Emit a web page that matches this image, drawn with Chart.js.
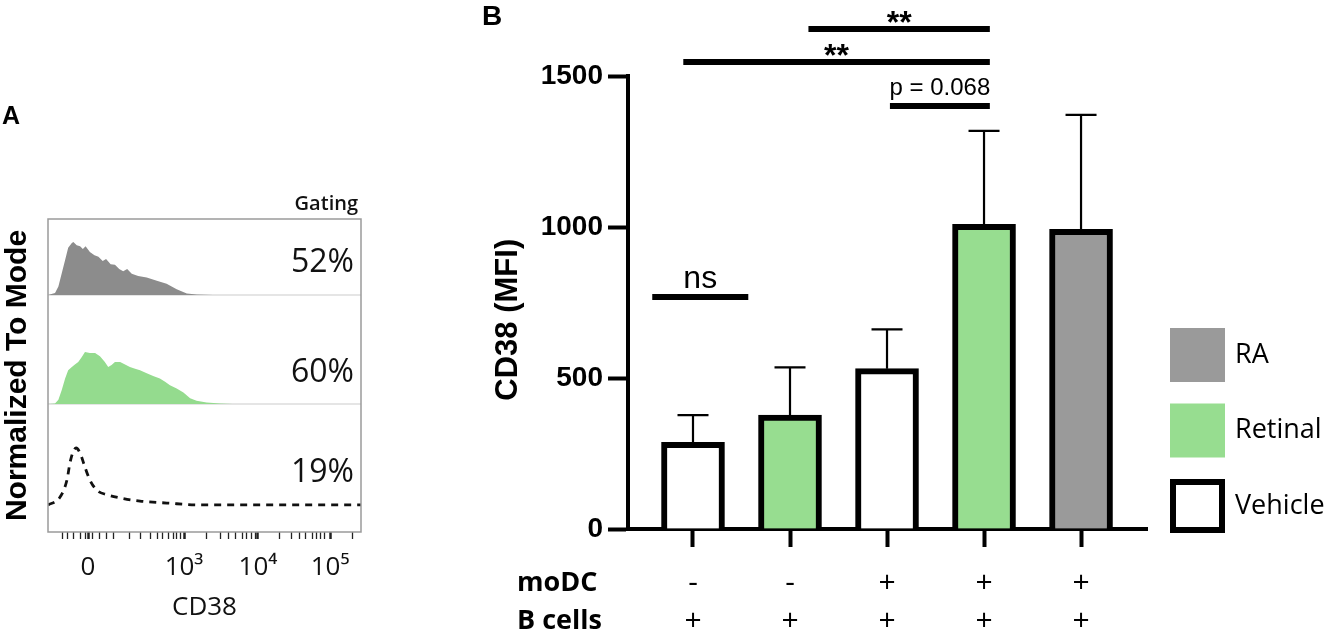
<!DOCTYPE html>
<html lang="en">
<head>
<meta charset="utf-8">
<title>CD38 expression</title>
<script src="https://cdn.jsdelivr.net/npm/chart.js@4.4.1/dist/chart.umd.min.js"></script>
<style>
  html, body { margin: 0; padding: 0; background: #ffffff; }
  #page { position: relative; width: 1340px; height: 643px; overflow: hidden; }
  #panelA { position: absolute; left: 0; top: 0; width: 470px; height: 643px; }
  #panelB { position: absolute; left: 470px; top: 0; width: 870px; height: 643px; }
</style>
</head>
<body>
<div id="page">
  <div id="panelA"><canvas id="histChart"></canvas></div>
  <div id="panelB"><canvas id="mfiChart"></canvas></div>
</div>
<script>
// A: CD38 histograms. x = display channel (0-1024), y = normalized to mode
const raChannel = [0, 23, 34, 45, 56, 66, 78, 83, 94, 105, 114, 123, 137, 152, 165, 179, 190, 205, 219, 233, 246, 259, 274, 295, 323, 356, 388, 421, 454, 486, 541, 1024];
const raMode = [0, 0.04, 0.16, 0.41, 0.66, 0.89, 0.98, 1.0, 0.94, 0.92, 0.87, 0.92, 0.81, 0.75, 0.72, 0.64, 0.68, 0.58, 0.57, 0.49, 0.45, 0.49, 0.40, 0.36, 0.33, 0.27, 0.21, 0.11, 0.03, 0.01, 0, 0];
const retChannel = [0, 23, 34, 45, 56, 66, 78, 88, 99, 110, 121, 137, 154, 170, 186, 197, 208, 219, 236, 252, 268, 285, 301, 323, 344, 366, 383, 399, 421, 443, 465, 486, 519, 563, 605, 1024];
const retMode = [0, 0.01, 0.08, 0.27, 0.49, 0.65, 0.71, 0.76, 0.81, 0.90, 1.0, 0.98, 0.98, 0.92, 0.81, 0.71, 0.75, 0.81, 0.81, 0.76, 0.71, 0.68, 0.65, 0.59, 0.54, 0.49, 0.43, 0.36, 0.30, 0.22, 0.11, 0.06, 0.03, 0.01, 0, 0];
const vehChannel = [0, 39, 62, 72, 82, 92, 105, 121, 137, 160, 193, 236, 301, 389, 497, 1024];
const vehMode = [0.11, 0.23, 0.5, 0.77, 0.94, 1.0, 0.92, 0.70, 0.5, 0.34, 0.27, 0.22, 0.17, 0.14, 0.11, 0.11];
const gatingPct = ["52%", "60%", "19%"];

const cd38MajorTicks = [131, 445, 687, 923];
const cd38MajorLabels = ["0", "10³", "10⁴", "10⁵"];
const cd38MinorTicks = [49, 65, 82, 105, 124, 144, 167, 193, 213, 265, 304, 334, 357, 376, 393, 409, 422, 432,
  520, 563, 592, 615, 635, 651, 667, 680, 759, 795, 824, 844, 864, 880, 893, 906, 995];

// B: CD38 MFI, mean + SD
const treatment = ["Vehicle", "Retinal", "Vehicle", "Retinal", "RA"];
const moDC = ["-", "-", "+", "+", "+"];
const bCells = ["+", "+", "+", "+", "+"];
const meanMFI = [287, 377, 531, 1009, 992];
const sdMFI = [90, 158, 130, 309, 379];
const groupNames = ["RA", "Retinal", "Vehicle"];

// significance bars (x in bar positions, level in MFI units)
const sigFrom = [2.19, 0.9, 3.03, 0.58];
const sigTo = [4.06, 4.06, 4.06, 1.57];
const sigLevel = [1656, 1546, 1401, 768];
const sigText = ["**", "**", "p = 0.068", "ns"];

const GREEN = "#97dd90";
const GREY = "#9a9a9a";
const groupColor = { RA: GREY, Retinal: GREEN, Vehicle: "#ffffff" };

Chart.defaults.font.family = "'Liberation Sans', Arial, sans-serif";
Chart.defaults.color = "#000";

const toPoints = (xs, ys) => xs.map((x, i) => ({ x: x, y: ys[i] }));

const histDecor = {
  id: "histDecor",
  beforeDatasetsDraw(chart) {
    const { ctx, chartArea } = chart;
    ctx.save();
    ctx.strokeStyle = "#dddddd";
    ctx.lineWidth = 1.5;
    ["yRA", "yRet"].forEach((id) => {
      const y = chart.scales[id].getPixelForValue(0);
      ctx.beginPath();
      ctx.moveTo(chartArea.left, y);
      ctx.lineTo(chartArea.right, y);
      ctx.stroke();
    });
    ctx.restore();
  },
  afterDatasetsDraw(chart) {
    const { ctx, chartArea } = chart;
    ctx.save();
    ctx.strokeStyle = "#9a9a9a";
    ctx.lineWidth = 1.5;
    ctx.strokeRect(chartArea.left, chartArea.top, chartArea.right - chartArea.left, chartArea.bottom - chartArea.top);

    ctx.fillStyle = "#000";
    ctx.textAlign = "left";
    ctx.textBaseline = "alphabetic";
    ctx.font = "bold 25px 'Liberation Sans'";
    ctx.fillText("A", 2, 124);

    ctx.fillStyle = "#111";
    ctx.textAlign = "right";
    ctx.font = "600 20px 'Open Sans'";
    ctx.fillText("Gating", chartArea.right - 3, 210);

    ctx.font = "32px 'Open Sans'";
    ["yRA", "yRet", "yVeh"].forEach((id, i) => {
      const y = chart.scales[id].getPixelForValue(0.64);
      ctx.fillText(gatingPct[i], chartArea.right - 7, y + 11);
    });
    ctx.restore();
  },
};

new Chart(document.getElementById("histChart").getContext("2d"), {
  type: "line",
  data: {
    datasets: [
      {
        label: "RA",
        data: toPoints(raChannel, raMode),
        yAxisID: "yRA",
        fill: "origin",
        backgroundColor: "#8c8c8c",
        borderWidth: 0,
        pointRadius: 0,
      },
      {
        label: "Retinal",
        data: toPoints(retChannel, retMode),
        yAxisID: "yRet",
        fill: "origin",
        backgroundColor: "#94db8e",
        borderWidth: 0,
        pointRadius: 0,
      },
      {
        label: "Vehicle",
        data: toPoints(vehChannel, vehMode),
        yAxisID: "yVeh",
        fill: false,
        borderColor: "#111",
        borderWidth: 2.8,
        borderDash: [7, 6],
        cubicInterpolationMode: "monotone",
        pointRadius: 0,
      },
    ],
  },
  options: {
    responsive: true,
    maintainAspectRatio: false,
    animation: false,
    events: [],
    layout: { padding: { left: 0, right: 109, top: 219, bottom: 0 } },
    plugins: { legend: { display: false }, tooltip: { enabled: false } },
    scales: {
      x: {
        type: "linear",
        min: 0,
        max: 1024,
        afterBuildTicks: (scale) => {
          scale.ticks = cd38MajorTicks.concat(cd38MinorTicks).sort((a, b) => a - b).map((v) => ({ value: v }));
        },
        afterFit: (scale) => { scale.height = 111; },
        border: { display: false },
        grid: {
          drawOnChartArea: false,
          tickLength: 7,
          tickColor: "#222",
          tickWidth: (c) => (c.tick && cd38MajorTicks.includes(c.tick.value) ? 2.5 : 1.3),
        },
        ticks: {
          autoSkip: false,
          maxRotation: 0,
          padding: 13,
          color: "#111",
          font: { family: "'Open Sans'", size: 26 },
          callback: (v) => {
            const k = cd38MajorTicks.indexOf(v);
            return k >= 0 ? cd38MajorLabels[k] : "";
          },
        },
        title: {
          display: true,
          text: "CD38",
          color: "#111",
          font: { family: "'Open Sans'", size: 26 },
          padding: { top: 0, bottom: 20 },
        },
      },
      yRA: { display: false, min: -4.472, max: 1.434 },
      yRet: { display: false, min: -2.462, max: 3.558 },
      yVeh: {
        position: "left",
        min: -0.3125,
        max: 4.578,
        afterFit: (scale) => { scale.width = 48; },
        ticks: { display: false },
        grid: { display: false },
        border: { display: false },
        title: {
          display: true,
          text: "Normalized To Mode",
          color: "#000",
          font: { family: "'Liberation Sans'", size: 30, weight: "bold" },
          padding: { top: 0, bottom: 0 },
        },
      },
    },
  },
  plugins: [histDecor],
});

const mfiDecor = {
  id: "mfiDecor",
  afterDatasetsDraw(chart) {
    const { ctx, chartArea, scales: { x, y } } = chart;
    ctx.save();
    ctx.strokeStyle = "#000";
    ctx.fillStyle = "#000";

    // upper SD error bars
    ctx.lineWidth = 2.2;
    meanMFI.forEach((m, i) => {
      const px = x.getPixelForValue(i + 1);
      const yBar = y.getPixelForValue(m);
      const yTop = y.getPixelForValue(m + sdMFI[i]);
      ctx.beginPath();
      ctx.moveTo(px, yBar);
      ctx.lineTo(px, yTop);
      ctx.moveTo(px - 15.5, yTop);
      ctx.lineTo(px + 15.5, yTop);
      ctx.stroke();
    });

    // significance bars
    ctx.lineWidth = 6;
    ctx.lineCap = "butt";
    ctx.textAlign = "center";
    ctx.textBaseline = "alphabetic";
    sigText.forEach((t, i) => {
      const x0 = x.getPixelForValue(sigFrom[i]);
      const x1 = x.getPixelForValue(sigTo[i]);
      const yy = y.getPixelForValue(sigLevel[i]);
      ctx.beginPath();
      ctx.moveTo(x0, yy);
      ctx.lineTo(x1, yy);
      ctx.stroke();
      let dy;
      if (t === "**") {
        ctx.font = "bold 32px 'Liberation Sans'";
        dy = 4;
      } else if (t === "ns") {
        ctx.font = "32px 'Liberation Sans'";
        dy = -9;
      } else {
        ctx.font = "24px 'Liberation Sans'";
        dy = -10.5;
      }
      ctx.fillText(t, (x0 + x1) / 2, yy + dy);
    });

    // row headers for the tick rows
    ctx.textAlign = "left";
    ctx.textBaseline = "middle";
    ctx.font = "bold 27px 'Open Sans'";
    const row0 = x.top + 18 + 17 + 19;
    ctx.fillText("moDC", 47, row0);
    ctx.fillText("B cells", 47, row0 + 38);

    // legend
    const lx = chartArea.right + 23;
    ctx.font = "27px 'Open Sans'";
    groupNames.forEach((g, i) => {
      const top = chartArea.bottom - 201 + i * 75.5;
      if (g === "Vehicle") {
        ctx.fillStyle = "#000";
        ctx.fillRect(lx, top, 55, 54);
        ctx.fillStyle = "#fff";
        ctx.fillRect(lx + 6, top + 6, 43, 42);
      } else {
        ctx.fillStyle = groupColor[g];
        ctx.fillRect(lx, top, 55, 54);
      }
      ctx.fillStyle = "#000";
      ctx.fillText(g, lx + 65, top + 27);
    });

    ctx.textBaseline = "alphabetic";
    ctx.font = "bold 28px 'Liberation Sans'";
    ctx.fillText("B", 12, 25);
    ctx.restore();
  },
};

new Chart(document.getElementById("mfiChart").getContext("2d"), {
  type: "bar",
  data: {
    datasets: [
      {
        label: "CD38 (MFI)",
        data: meanMFI.map((v, i) => ({ x: i + 1, y: v })),
        backgroundColor: treatment.map((t) => groupColor[t]),
        borderColor: "#000",
        borderWidth: 6,
        barThickness: 63,
      },
    ],
  },
  options: {
    responsive: true,
    maintainAspectRatio: false,
    animation: false,
    events: [],
    layout: { padding: { left: 0, right: 193, top: 76, bottom: 0 } },
    plugins: { legend: { display: false }, tooltip: { enabled: false } },
    scales: {
      x: {
        type: "linear",
        min: 0.33,
        max: 5.68,
        offset: false,
        afterBuildTicks: (scale) => {
          scale.ticks = meanMFI.map((v, i) => ({ value: i + 1 }));
        },
        afterFit: (scale) => { scale.height = 114; },
        border: { display: true, color: "#000", width: 4 },
        grid: { offset: false, drawOnChartArea: false, tickLength: 18, tickWidth: 4, tickColor: "#000" },
        ticks: {
          autoSkip: false,
          maxRotation: 0,
          padding: 17,
          color: "#000",
          font: { family: "'Open Sans'", size: 30, lineHeight: 1.27 },
          callback: (v, i) => [moDC[i], bCells[i]],
        },
      },
      y: {
        min: 0,
        max: 1500,
        afterFit: (scale) => { scale.width = 158; },
        border: { display: true, color: "#000", width: 4 },
        grid: { drawOnChartArea: false, tickLength: 20, tickWidth: 4, tickColor: "#000" },
        ticks: {
          stepSize: 500,
          padding: 5,
          color: "#000",
          font: { family: "'Liberation Sans'", size: 28, weight: "bold" },
          callback: (v) => String(v),
        },
        title: {
          display: true,
          // trailing spaces nudge the rotated title down to where the original sits
          text: "CD38 (MFI)    ",
          color: "#000",
          font: { family: "'Liberation Sans'", size: 31, weight: "bold" },
          padding: { top: 20, bottom: 0 },
        },
      },
    },
  },
  plugins: [mfiDecor],
});
</script>
</body>
</html>
